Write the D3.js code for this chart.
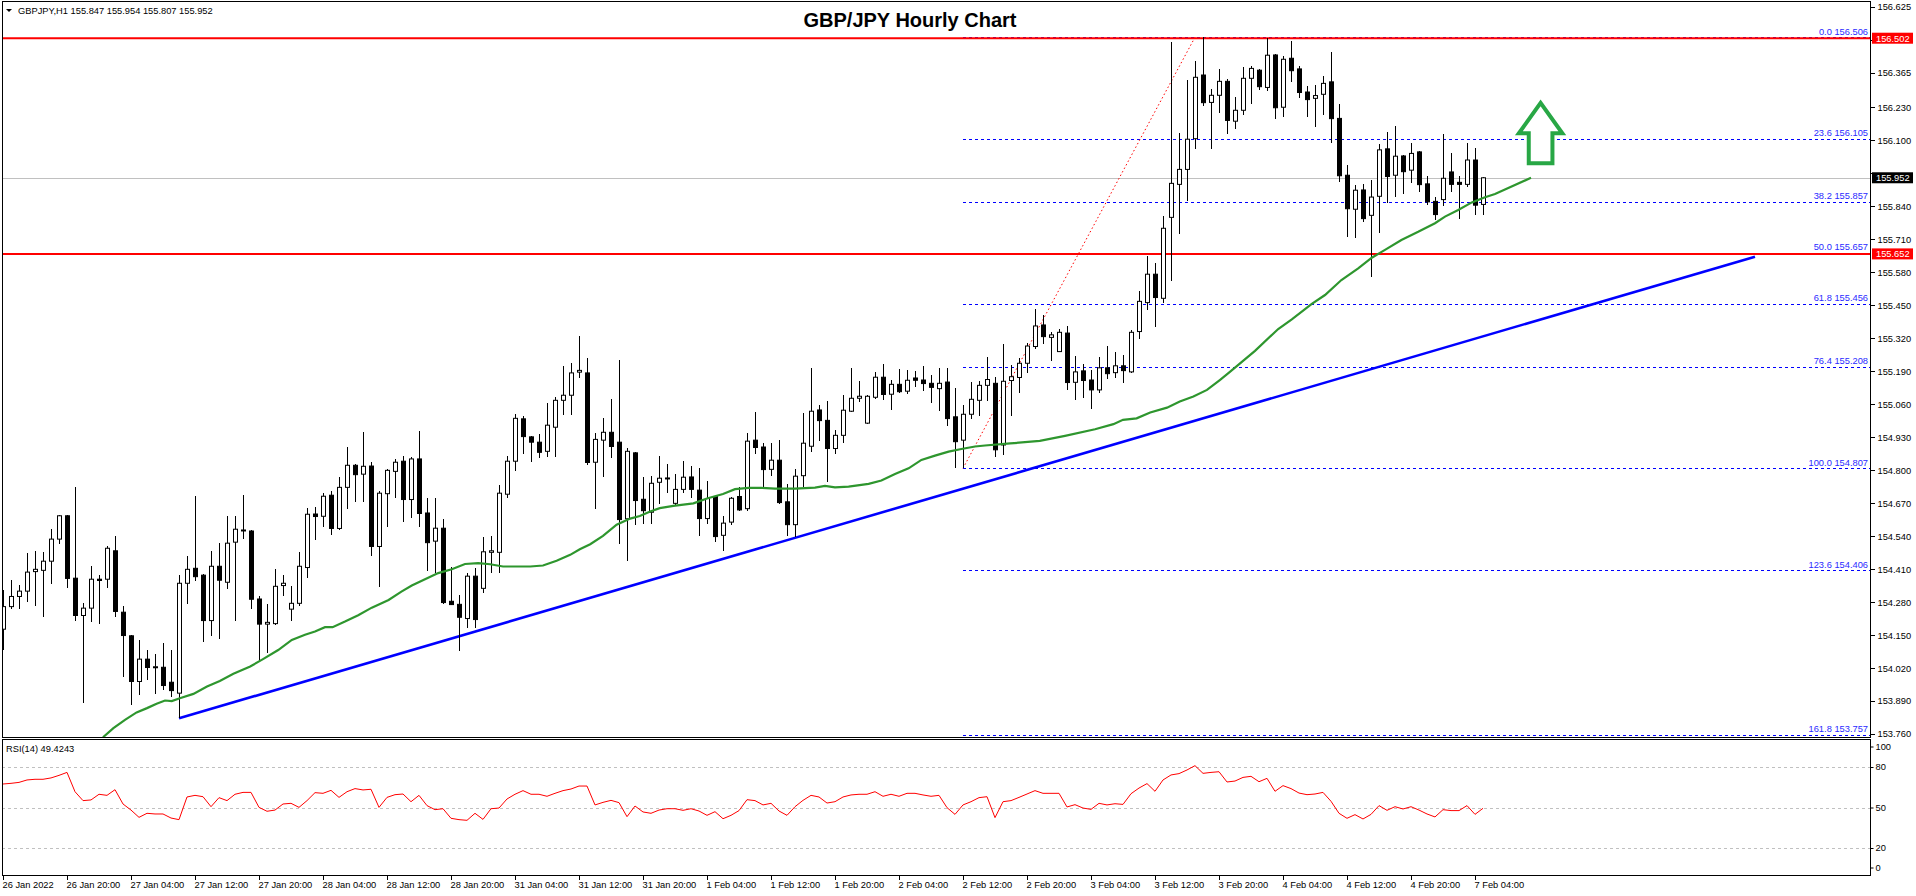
<!DOCTYPE html>
<html><head><meta charset="utf-8">
<script src="https://cdn.jsdelivr.net/npm/d3@7"></script>
<style>html,body{margin:0;padding:0;background:#fff;overflow:hidden}svg{display:block}</style>
</head><body>
<svg id="chart" width="1916" height="896"></svg>
<script>
// ---------------- DATA ----------------
const symbolHeader = "GBPJPY,H1  155.847 155.954 155.807 155.952";
const chartTitle = "GBP/JPY Hourly Chart";
const rsiHeader = "RSI(14) 49.4243";

const opens = [154.173,154.262,154.302,154.323,154.400,154.405,154.441,154.528,154.620,154.374,
154.227,154.256,154.370,154.370,154.482,154.240,154.147,153.967,154.055,154.022,
154.023,153.964,153.921,154.354,154.413,154.386,154.207,154.421,154.358,154.516,
154.562,154.560,154.292,154.193,154.195,154.345,154.252,154.275,154.416,154.627,
154.618,154.701,154.570,154.732,154.819,154.784,154.816,154.499,154.707,154.795,
154.835,154.684,154.844,154.631,154.520,154.571,154.283,154.271,154.215,154.382,
154.334,154.476,154.476,154.705,154.835,155.002,154.931,154.910,154.874,154.969,
155.075,155.095,155.186,155.183,154.831,154.918,154.949,154.910,154.608,154.868,
154.685,154.634,154.752,154.769,154.669,154.724,154.773,154.721,154.609,154.696,
154.543,154.595,154.696,154.648,154.918,154.891,154.803,154.839,154.675,154.585,
154.778,154.894,155.037,154.996,154.885,154.937,155.032,155.083,154.985,155.087,
155.166,155.099,155.138,155.111,155.163,155.155,155.142,155.121,155.147,155.010,
154.918,155.020,155.075,155.134,155.142,154.899,155.153,155.165,155.221,155.287,
155.372,155.323,155.267,155.340,155.146,155.191,155.155,155.116,155.203,155.184,
155.211,155.187,155.346,155.460,155.572,155.477,155.796,155.926,155.985,156.106,
156.357,156.249,156.277,156.332,156.175,156.218,156.344,156.376,156.308,156.436,
156.230,156.423,156.381,156.290,156.265,156.281,156.330,156.186,155.962,155.828,
155.904,155.804,155.879,156.066,155.962,156.038,155.982,156.054,155.928,155.859,
155.866,155.975,155.934,155.926,156.022,155.847];

const highs = [154.328,154.367,154.348,154.475,154.482,154.478,154.568,154.625,154.622,154.734,
154.275,154.422,154.386,154.501,154.541,154.265,154.151,154.131,154.092,154.076,
154.118,154.092,154.387,154.462,154.696,154.391,154.482,154.513,154.620,154.620,
154.702,154.564,154.302,154.273,154.411,154.387,154.344,154.478,154.651,154.655,
154.710,154.718,154.773,154.891,154.824,154.950,154.832,154.718,154.805,154.844,
154.856,154.851,154.954,154.690,154.690,154.608,154.417,154.308,154.394,154.414,
154.537,154.541,154.740,154.856,155.023,155.015,154.936,154.942,155.065,155.087,
155.210,155.222,155.329,155.242,154.945,155.006,155.080,155.234,154.887,154.871,
154.773,154.777,154.856,154.824,154.785,154.836,154.816,154.809,154.756,154.698,
154.619,154.694,154.735,154.945,155.029,154.906,154.906,154.919,154.746,154.803,
155.024,155.203,155.056,155.073,154.958,155.096,155.203,155.151,155.096,155.187,
155.218,155.155,155.199,155.195,155.191,155.210,155.175,155.203,155.203,155.124,
155.056,155.147,155.151,155.245,155.166,155.297,155.214,155.241,155.300,155.435,
155.411,155.346,155.356,155.366,155.250,155.218,155.195,155.245,155.289,155.266,
155.254,155.352,155.506,155.644,155.615,155.801,156.487,156.129,156.337,156.412,
156.506,156.301,156.381,156.341,156.270,156.387,156.393,156.379,156.502,156.440,
156.432,156.491,156.394,156.314,156.318,156.353,156.448,156.243,156.003,155.924,
155.928,155.943,156.085,156.133,156.156,156.042,156.089,156.059,155.959,155.878,
156.125,156.050,155.959,156.088,156.071,155.954];

const lows = [154.091,154.254,154.254,154.282,154.265,154.223,154.353,154.507,154.337,154.207,
153.884,154.203,154.195,154.337,154.223,153.986,153.876,153.912,153.971,153.919,
153.934,153.904,153.822,154.274,154.361,154.124,154.148,154.136,154.333,154.207,
154.528,154.252,154.046,154.081,154.189,154.304,154.207,154.266,154.376,154.526,
154.576,154.546,154.562,154.648,154.676,154.676,154.463,154.341,154.577,154.692,
154.597,154.613,154.574,154.404,154.394,154.273,154.269,154.089,154.176,154.176,
154.317,154.393,154.393,154.692,154.798,154.865,154.830,154.849,154.853,154.853,
155.019,155.019,155.161,154.822,154.648,154.774,154.849,154.507,154.440,154.585,
154.589,154.589,154.668,154.711,154.659,154.709,154.690,154.542,154.588,154.518,
154.483,154.585,154.637,154.637,154.864,154.732,154.777,154.668,154.541,154.538,
154.735,154.873,154.916,154.753,154.864,154.908,155.027,155.070,154.982,155.082,
155.078,155.038,155.103,155.101,155.129,155.113,155.066,155.034,154.975,154.810,
154.807,155.000,155.015,155.074,154.850,154.860,155.013,155.105,155.182,155.278,
155.297,155.230,155.264,155.116,155.077,155.084,155.041,155.105,155.159,155.161,
155.145,155.184,155.318,155.431,155.362,155.457,155.547,155.732,155.861,156.067,
156.236,156.064,156.209,156.123,156.146,156.201,156.241,156.298,156.295,156.182,
156.193,156.331,156.268,156.193,156.154,156.200,156.091,155.937,155.720,155.716,
155.777,155.559,155.736,155.854,155.878,155.890,155.930,155.897,155.846,155.786,
155.842,155.897,155.791,155.917,155.804,155.807];

const closes = [154.262,154.302,154.323,154.398,154.409,154.441,154.528,154.620,154.373,154.227,
154.256,154.370,154.365,154.492,154.243,154.148,153.967,154.055,154.022,154.025,
153.951,153.931,154.354,154.409,154.380,154.207,154.421,154.366,154.512,154.567,
154.564,154.291,154.193,154.200,154.342,154.354,154.275,154.421,154.626,154.617,
154.697,154.570,154.732,154.819,154.782,154.815,154.499,154.709,154.799,154.831,
154.684,154.844,154.629,154.514,154.571,154.278,154.270,154.220,154.382,154.211,
154.478,154.482,154.709,154.835,155.004,154.932,154.910,154.870,154.977,155.075,
155.095,155.183,155.193,154.830,154.921,154.949,154.893,154.605,154.874,154.680,
154.640,154.748,154.768,154.766,154.724,154.772,154.724,154.609,154.688,154.538,
154.591,154.689,154.643,154.914,154.889,154.802,154.839,154.672,154.585,154.776,
154.906,155.032,154.995,154.885,154.937,155.036,155.083,155.091,155.091,155.166,
155.098,155.138,155.109,155.154,155.154,155.141,155.126,155.142,155.003,154.912,
155.020,155.079,155.134,155.157,154.880,155.150,155.168,155.221,155.289,155.368,
155.326,155.333,155.343,155.145,155.187,155.153,155.116,155.203,155.180,155.211,
155.192,155.343,155.465,155.572,155.480,155.753,155.930,155.985,156.104,156.348,
156.248,156.277,156.332,156.178,156.218,156.344,156.383,156.311,156.435,156.228,
156.419,156.374,156.288,156.260,156.276,156.324,156.185,155.960,155.830,155.903,
155.791,155.876,156.062,155.957,156.037,155.976,156.048,155.925,155.857,155.807,
155.950,155.926,155.926,156.022,155.844,155.952];

const rsiValues = [67.4,67.9,68.6,70.4,70.9,70.9,71.9,73.8,76.0,61.7,
55.1,55.6,59.8,59.0,63.2,52.6,48.1,42.7,45.7,45.2,
45.2,42.2,41.0,57.8,59.0,58.0,50.6,57.3,55.1,59.8,
61.2,61.2,50.1,47.2,48.1,52.6,53.1,50.1,55.1,61.0,
60.5,62.7,57.5,61.7,64.0,63.0,63.5,50.1,57.5,59.5,
60.0,54.3,59.0,51.4,48.4,49.1,42.0,41.0,40.5,45.7,
41.2,49.1,49.6,56.3,59.8,62.5,59.8,59.8,58.3,60.5,
62.5,63.7,65.9,65.9,51.9,53.8,55.3,53.6,43.2,51.1,
46.7,45.7,48.1,49.1,49.1,47.9,49.1,47.4,44.2,46.9,
41.7,44.2,
47.7,55.8,55.1,51.9,53.1,47.4,44.2,50.6,55.3,59.0,
57.8,53.3,54.3,57.8,59.3,59.8,59.8,61.7,58.3,59.8,
58.3,60.5,60.5,59.3,58.3,59.0,49.9,44.9,51.9,54.3,
57.3,58.0,42.5,54.3,55.1,57.5,60.0,62.5,60.5,60.5,
60.5,50.4,52.1,49.6,48.6,53.1,51.9,52.8,52.3,60.2,
64.4,67.7,62.0,70.4,74.1,75.1,77.8,81.0,75.3,76.0,
76.5,68.9,69.6,72.3,73.1,69.1,71.6,62.0,66.2,64.0,
60.7,59.5,60.0,61.2,54.6,45.7,42.0,44.7,41.5,44.9,
51.4,47.9,50.6,48.9,50.6,48.1,45.2,43.0,48.4,47.7,
47.7,51.4,44.9,49.4];

// moving average: [bar index, price]
const maBars = [12.5,13.8,15.25,16.7,18.0,19.2,20.25,21.1,22.1,23.8,25.5,27.1,28.8,30.9,
32.5,34.4,36.1,37.75,39.0,40.25,41.2,42.75,44.4,46.1,48.2,49.8,51.1,52.75,54.4,56.1,57.75,59.4,
60.9,62.5,65.9,67.5,69.2,70.9,72.1,73.4,75.0,76.7,78.4,79.6,80.9,82.1,83.8,86.3,88.0,90.0,
91.5,93.2,94.8,96.5,99.0,101.5,102.75,104.0,105.7,108.2,109.8,111.5,113.2,114.8,116.5,118.2,119.8,121.5,122.75,
125.9,129.6,132.75,136.5,138.8,140.0,141.7,143.4,145.5,147.1,148.8,150.5,152.1,153.4,156.5,
159.4,161.1,163.6,165.25,167.3,169.4,171.1,172.75,174.8,176.9,179.0,180.25,181.9,183.6,185.25,186.5,191.0];
const maValues = [153.747,153.783,153.816,153.845,153.862,153.879,153.892,153.890,153.901,153.918,153.947,153.969,153.997,154.026,
154.055,154.091,154.131,154.151,154.164,154.181,154.181,154.203,154.228,154.258,154.288,154.321,154.345,154.370,154.394,154.409,154.430,154.433,
154.429,154.420,154.420,154.424,154.443,154.466,154.488,154.508,154.541,154.585,154.609,154.619,154.637,154.650,154.659,154.669,154.688,154.706,
154.725,154.730,154.730,154.727,154.727,154.731,154.738,154.732,154.735,154.746,154.759,154.785,154.807,154.840,154.857,154.873,154.883,154.893,154.897,
154.905,154.915,154.935,154.961,154.981,154.998,155.004,155.027,155.046,155.070,155.090,155.116,155.155,155.188,155.270,
155.356,155.394,155.455,155.490,155.549,155.595,155.637,155.668,155.707,155.739,155.773,155.799,155.825,155.855,155.875,155.888,155.952];

const priceTicks = [156.625,156.495,156.365,156.230,156.100,155.970,155.840,155.710,155.580,155.450,155.320,155.190,155.060,154.930,154.800,154.670,154.540,154.410,154.280,154.150,154.020,153.890,153.760];
const rsiTicks = [100,80,50,20,0];
const rsiLevels = [80,50,20];
const xTickLabels = ["26 Jan 2022","26 Jan 20:00","27 Jan 04:00","27 Jan 12:00","27 Jan 20:00","28 Jan 04:00","28 Jan 12:00","28 Jan 20:00","31 Jan 04:00","31 Jan 12:00","31 Jan 20:00","1 Feb 04:00","1 Feb 12:00","1 Feb 20:00","2 Feb 04:00","2 Feb 12:00","2 Feb 20:00","3 Feb 04:00","3 Feb 12:00","3 Feb 20:00","4 Feb 04:00","4 Feb 12:00","4 Feb 20:00","7 Feb 04:00"];
const barsPerLabel = 8;

const fibLevels = [0,23.6,38.2,50,61.8,76.4,100,123.6,161.8];
const fibPrices = [156.506,156.105,155.857,155.657,155.456,155.208,154.807,154.406,153.757];
const fibStartBar = 120, fibEndBar = 149;
const keyLevels = [156.502,155.652];
const currentPrice = 155.952;
const trendBars = [22,219];
const trendPrices = [153.822,155.641];
// up arrow annotation (bar centre, base price, head price, tip price)
const arrowBar = 192.2, arrowBase = 156.009, arrowHead = 156.127, arrowTip = 156.247;

// ---------------- LAYOUT ----------------
const W = 1916, H = 896;
const axisX = 1870;
const mainTop = 2, mainBottom = 737, rsiTop = 739, rsiBottom = 875;
const FONT = "'Liberation Sans', Arial, sans-serif";

const svg = d3.select("#chart");
const x = d3.scaleLinear().domain([0, 100]).range([3, 803]);
const y = d3.scaleLinear().domain([153.760, 156.625]).range([734, 7]);
const yr = d3.scaleLinear().domain([0, 100]).range([875, 740]);

const defs = svg.append("defs");
defs.append("clipPath").attr("id","clipMain").append("rect")
  .attr("x",2).attr("y",mainTop).attr("width",axisX-2).attr("height",mainBottom-mainTop);
defs.append("clipPath").attr("id","clipRsi").append("rect")
  .attr("x",2).attr("y",rsiTop).attr("width",axisX-2).attr("height",rsiBottom-rsiTop);

svg.append("rect").attr("width",W).attr("height",H).attr("fill","#fff");

const main = svg.append("g").attr("clip-path","url(#clipMain)");

// fib dashed levels
main.selectAll("line.fib").data(fibPrices).join("line")
  .attr("x1", x(fibStartBar)).attr("x2", axisX)
  .attr("y1", d => Math.round(y(d))+0.5).attr("y2", d => Math.round(y(d))+0.5)
  .attr("stroke","#0000ff").attr("stroke-width",1).attr("stroke-dasharray","3,3")
  .attr("shape-rendering","crispEdges");

// current price line
main.append("line").attr("x1",2).attr("x2",axisX)
  .attr("y1",Math.round(y(currentPrice))+0.5).attr("y2",Math.round(y(currentPrice))+0.5)
  .attr("stroke","#c0c0c0").attr("stroke-width",1).attr("shape-rendering","crispEdges");

// red key levels
main.selectAll("line.key").data(keyLevels).join("line")
  .attr("x1",2).attr("x2",axisX).attr("y1",d=>y(d)).attr("y2",d=>y(d))
  .attr("stroke","#ff0000").attr("stroke-width",2);

// fib red dotted diagonal
main.append("line")
  .attr("x1",x(fibStartBar)).attr("y1",y(fibPrices[6]))
  .attr("x2",x(fibEndBar)).attr("y2",y(fibPrices[0]))
  .attr("stroke","#ff0000").attr("stroke-width",1).attr("stroke-dasharray","1.5,2.5");

// trend line
main.append("line")
  .attr("x1",x(trendBars[0])).attr("y1",y(trendPrices[0]))
  .attr("x2",x(trendBars[1])).attr("y2",y(trendPrices[1]))
  .attr("stroke","#0000ff").attr("stroke-width",2.6);

// candles
const idx = d3.range(opens.length);
const cg = main.append("g");
cg.selectAll("line.wick").data(idx).join("line")
  .attr("x1",i=>Math.round(x(i))+0.5).attr("x2",i=>Math.round(x(i))+0.5)
  .attr("y1",i=>y(highs[i])).attr("y2",i=>y(lows[i]))
  .attr("stroke","#000").attr("stroke-width",1).attr("shape-rendering","crispEdges");
cg.selectAll("rect.body").data(idx).join("rect")
  .attr("x",i=>Math.round(x(i))-1.5)
  .attr("width",4)
  .attr("y",i=>y(Math.max(opens[i],closes[i])))
  .attr("height",i=>Math.max(1,Math.abs(y(opens[i])-y(closes[i]))))
  .attr("fill",i=>closes[i]>=opens[i]?"#fff":"#000")
  .attr("stroke","#000").attr("stroke-width",1);

// moving average
main.append("path")
  .datum(d3.range(maBars.length))
  .attr("d", d3.line().x(i=>x(maBars[i])).y(i=>y(maValues[i])))
  .attr("fill","none").attr("stroke","#2e962e").attr("stroke-width",2.2);

// arrow
const aw = 2.72, sw = 1.48;
const arrowPts = [[arrowBar,arrowTip],[arrowBar+aw,arrowHead],[arrowBar+sw,arrowHead],[arrowBar+sw,arrowBase],
  [arrowBar-sw,arrowBase],[arrowBar-sw,arrowHead],[arrowBar-aw,arrowHead]];
main.append("polygon")
  .attr("points", arrowPts.map(p=>[x(p[0]),y(p[1])].join(",")).join(" "))
  .attr("fill","#fff").attr("stroke","#28a745").attr("stroke-width",4).attr("stroke-linejoin","miter");

// fib labels
svg.selectAll("text.fib").data(fibLevels).join("text")
  .attr("x", axisX-2).attr("y",(d,i)=>y(fibPrices[i])-2.5)
  .attr("text-anchor","end").attr("font-family",FONT).attr("font-size","9.3px")
  .attr("fill","#2a2aff")
  .text((d,i)=>d.toFixed(1)+" "+fibPrices[i].toFixed(3));

// RSI panel
const rsi = svg.append("g").attr("clip-path","url(#clipRsi)");
rsi.selectAll("line.lvl").data(rsiLevels).join("line")
  .attr("x1",2).attr("x2",axisX)
  .attr("y1",d=>Math.round(yr(d))+0.5).attr("y2",d=>Math.round(yr(d))+0.5)
  .attr("stroke","#c0c0c0").attr("stroke-width",1).attr("stroke-dasharray","3,3")
  .attr("shape-rendering","crispEdges");
rsi.append("path").datum(idx)
  .attr("d", d3.line().x(i=>x(i)).y(i=>yr(rsiValues[i])))
  .attr("fill","none").attr("stroke","#ff0000").attr("stroke-width",1);

// frames
svg.append("rect").attr("x",2.5).attr("y",1.5).attr("width",axisX-2.5).attr("height",mainBottom-1.5)
  .attr("fill","none").attr("stroke","#000").attr("stroke-width",1).attr("shape-rendering","crispEdges");
svg.append("rect").attr("x",2.5).attr("y",rsiTop+0.5).attr("width",axisX-2.5).attr("height",rsiBottom-rsiTop)
  .attr("fill","none").attr("stroke","#000").attr("stroke-width",1).attr("shape-rendering","crispEdges");

// value boxes on axis (drawn over the scale)
const boxes = keyLevels.map(v=>({v, bg:"#ff0000", fg:"#fff"})).concat([{v:currentPrice,bg:"#000",fg:"#fff"}]);
const hiddenByBox = v => boxes.some(b => Math.abs(y(b.v) - y(v)) < 9);

// price axis
const pAxis = svg.append("g").attr("transform",`translate(${axisX+0.5},0)`)
  .call(d3.axisRight(y).tickValues(priceTicks).tickSize(4).tickPadding(3)
    .tickFormat(d => hiddenByBox(d) ? "" : d3.format(".3f")(d)));
pAxis.selectAll("text").attr("font-family",FONT).attr("font-size","9.3px").attr("fill","#000");
pAxis.selectAll("line").attr("stroke","#000").attr("shape-rendering","crispEdges");
pAxis.select(".domain").attr("d",`M0,${mainTop}V${mainBottom}`).attr("stroke","#000");

// rsi axis
const rAxis = svg.append("g").attr("transform",`translate(${axisX+0.5},0)`)
  .call(d3.axisRight(yr).tickValues(rsiTicks).tickSize(3).tickPadding(2));
rAxis.select(".domain").attr("d",`M0,${rsiTop}V${rsiBottom}`).attr("stroke","#000");
rAxis.selectAll("text").attr("font-family",FONT).attr("font-size","9.3px").attr("fill","#000");
rAxis.selectAll(".tick").filter(d=>d===100).attr("transform",`translate(0,${yr(100)+7})`);
rAxis.selectAll(".tick").filter(d=>d===0).attr("transform",`translate(0,${yr(0)-7})`);
rAxis.selectAll("line").attr("stroke","#000");

const bg = svg.selectAll("g.box").data(boxes).join("g").attr("transform",d=>`translate(${axisX+2},${y(d.v)})`);
bg.append("rect").attr("x",0).attr("y",-5.5).attr("width",41).attr("height",11).attr("fill",d=>d.bg);
bg.append("text").attr("x",4).attr("y",3.5).attr("font-family",FONT).attr("font-size","9.3px")
  .attr("fill",d=>d.fg).text(d=>d.v.toFixed(3));

// time axis
const tAxis = svg.append("g").attr("transform",`translate(0,${rsiBottom+0.5})`)
  .call(d3.axisBottom(x).tickValues(xTickLabels.map((d,i)=>i*barsPerLabel)).tickSize(4).tickPadding(2)
    .tickFormat((d,i)=>xTickLabels[i]));
tAxis.select(".domain").remove();
tAxis.selectAll("line").attr("stroke","#000").attr("shape-rendering","crispEdges");
tAxis.selectAll("text").attr("font-family",FONT).attr("font-size","9.3px").attr("fill","#000")
  .attr("text-anchor","start").attr("dx","-1px");

// headers
svg.append("path").attr("d","M6,9 L12,9 L9,12 Z").attr("fill","#000");
svg.append("text").attr("x",18).attr("y",14).attr("font-family",FONT).attr("font-size","9.3px")
  .attr("fill","#000").text(symbolHeader);
svg.append("text").attr("x",910).attr("y",27).attr("text-anchor","middle").attr("font-family",FONT)
  .attr("font-size","20px").attr("font-weight","bold").attr("fill","#000").text(chartTitle);
svg.append("text").attr("x",6).attr("y",752).attr("font-family",FONT).attr("font-size","9.3px")
  .attr("fill","#000").text(rsiHeader);
</script>
</body></html>
